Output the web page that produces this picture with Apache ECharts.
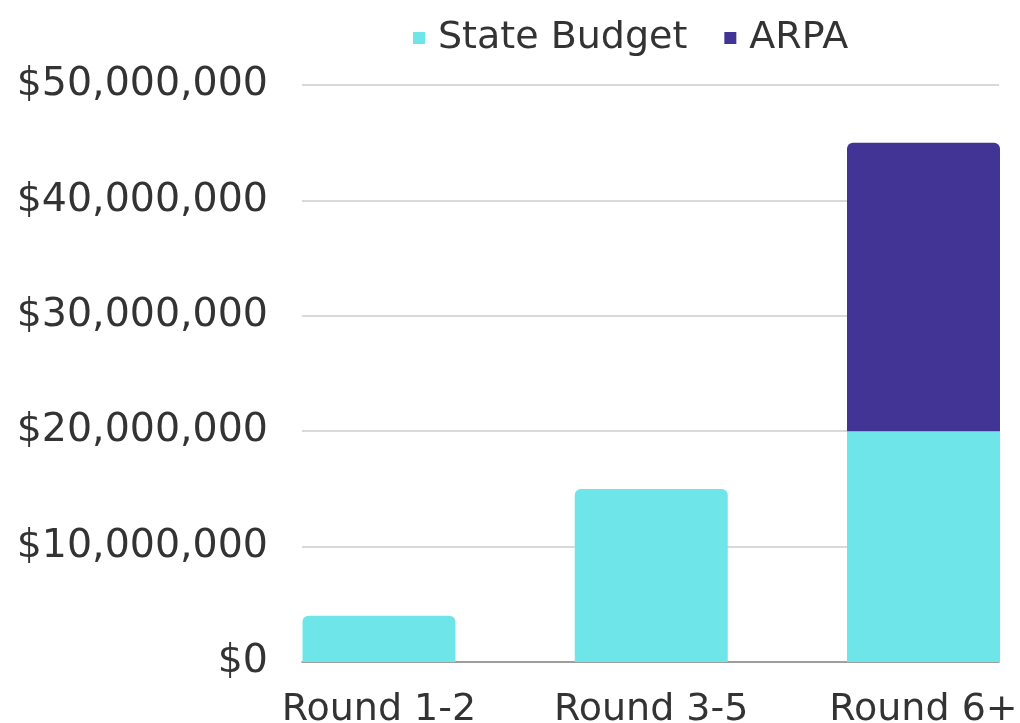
<!DOCTYPE html>
<html>
<head>
<meta charset="utf-8">
<script src="https://cdn.jsdelivr.net/npm/echarts@6/dist/echarts.min.js"></script>
<style>html,body{margin:0;padding:0;background:#fff}#c{width:1020px;height:723px}</style>
</head>
<body>
<div id="c"></div>
<script>
const categories = ['Round 1-2', 'Round 3-5', 'Round 6+'];
const stateBudget = [4000000, 15000000, 20000000];
const arpa = [null, null, 25000000];
const yTicks = [0, 10000000, 20000000, 30000000, 40000000, 50000000];

const FONT = 'DejaVu Sans';
const chart = echarts.init(document.getElementById('c'), null, {renderer: 'canvas'});
const fmt = v => '$' + Math.round(v).toLocaleString('en-US');
const catIdx = categories.map((c, i) => i);

chart.setOption({
  animation: false,
  backgroundColor: '#ffffff',
  legend: {
    data: ['State Budget', 'ARPA'],
    left: 408,
    top: 14,
    icon: 'rect',
    itemWidth: 12,
    itemHeight: 12,
    itemGap: 37,
    textStyle: {fontFamily: FONT, fontSize: 38, color: '#333333', padding: [0, 0, 0, 8]}
  },
  grid: {left: 302, right: 21, top: 85, bottom: 61, containLabel: false, outerBoundsMode: 'none'},
  xAxis: {
    type: 'value', min: -0.2828, max: 2.2773,
    axisLine: {show: true, onZero: false, lineStyle: {color: '#8a8a8a', width: 1.5}},
    axisTick: {show: false},
    splitLine: {show: false},
    axisLabel: {
      customValues: catIdx,
      hideOverlap: false,
      fontFamily: FONT, fontSize: 38, color: '#333333', margin: 29,
      formatter: v => categories[Math.round(v)] || ''
    }
  },
  yAxis: {
    type: 'value', min: yTicks[0], max: yTicks[yTicks.length - 1],
    interval: yTicks[1] - yTicks[0],
    axisLine: {show: false}, axisTick: {show: false},
    axisLabel: {fontFamily: FONT, fontSize: 39.5, color: '#333333', margin: 34, formatter: fmt},
    splitLine: {show: true, lineStyle: {color: '#cccccc', width: 1.5}}
  },
  series: [
    {
      name: 'State Budget', type: 'bar', stack: 'total',
      barWidth: 153,
      encode: {x: 1, y: 0},
      data: stateBudget.map((v, i) => ({
        value: [v, i],
        itemStyle: {borderRadius: arpa[i] ? 0 : [6, 6, 0, 0]}
      })),
      itemStyle: {color: '#6de5e9'}
    },
    {
      name: 'ARPA', type: 'bar', stack: 'total',
      barWidth: 153,
      encode: {x: 1, y: 0},
      data: arpa.map((v, i) => [v, i]),
      itemStyle: {color: '#423494', borderRadius: [6, 6, 0, 0]}
    }
  ]
});
</script>
</body>
</html>
